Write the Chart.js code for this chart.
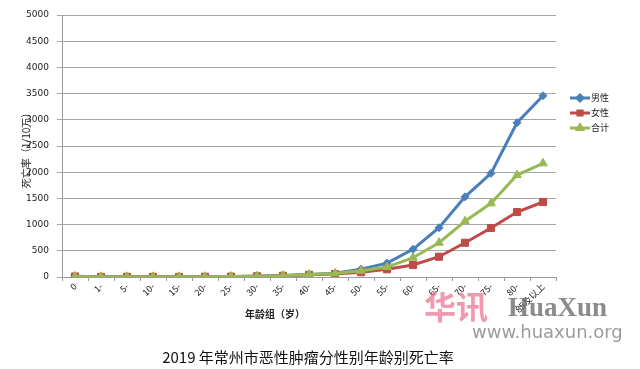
<!DOCTYPE html>
<html>
<head>
<meta charset="utf-8">
<script src="https://cdn.jsdelivr.net/npm/chart.js@4/dist/chart.umd.min.js"></script>
<style>
  html, body { margin: 0; padding: 0; background: #fff; }
  #wrap { position: relative; width: 640px; height: 369px; }
</style>
</head>
<body>
<div id="wrap"><canvas id="c" width="640" height="369"></canvas></div>
<script>
// Age groups (x axis)
const ageGroups = ['0', '1-', '5-', '10-', '15-', '20-', '25-', '30-', '35-', '40-',
                   '45-', '50-', '55-', '60-', '65-', '70-', '75-', '80-', '85及以上'];

// Mortality per 100,000
const maleRates   = [12, 4, 3, 3, 4, 6, 9, 16, 28, 50, 70, 150, 265, 528, 940, 1530, 1978, 2944, 3460];
const femaleRates = [10, 3, 3, 3, 3, 5, 8, 14, 24, 42, 57, 90, 147, 229, 387, 654, 935, 1240, 1431];
const totalRates  = [11, 4, 3, 3, 4, 6, 9, 15, 26, 46, 68, 120, 190, 368, 654, 1063, 1406, 1946, 2169];

const yTicks = [0, 500, 1000, 1500, 2000, 2500, 3000, 3500, 4000, 4500, 5000];

const seriesNames = ['男性', '女性', '合计'];
const seriesColors = ['#4a7ebb', '#be4b48', '#98b954'];

const cjk = "'Noto Sans CJK SC', 'DejaVu Sans', sans-serif";

// Extra text: axis titles, legend, caption, watermark
const decorPlugin = {
  id: 'decor',
  afterDraw(chart) {
    const ctx = chart.ctx;
    ctx.save();

    // Y axis title
    ctx.fillStyle = '#222';
    ctx.font = '10px ' + cjk;
    ctx.translate(26, 148);
    ctx.rotate(-Math.PI / 2);
    ctx.textAlign = 'center';
    ctx.textBaseline = 'middle';
    ctx.fillText('死亡率（1/10万）', 0, 0);
    ctx.setTransform(1, 0, 0, 1, 0, 0);

    // X axis title
    ctx.font = 'bold 10px ' + cjk;
    ctx.fillText('年龄组（岁）', 275, 314);

    // Legend
    const markers = ['rectRot', 'rect', 'triangle'];
    seriesNames.forEach((name, i) => {
      const y = 98 + i * 15;
      ctx.strokeStyle = seriesColors[i];
      ctx.lineWidth = 3;
      ctx.beginPath();
      ctx.moveTo(570, y);
      ctx.lineTo(590, y);
      ctx.stroke();
      Chart.helpers.drawPoint(ctx, {
        pointStyle: markers[i], radius: 3, borderWidth: 1
      }, 580, y);
      ctx.fillStyle = seriesColors[i];
      ctx.fill();
      ctx.fillStyle = '#222';
      ctx.font = '9px ' + cjk;
      ctx.textAlign = 'left';
      ctx.fillText(name, 591, y);
    });

    // Watermark
    ctx.textAlign = 'left';
    ctx.fillStyle = 'rgba(235, 110, 140, 0.7)';
    ctx.font = 'bold 32px ' + cjk;
    ctx.fillText('华讯', 424, 307);
    ctx.fillStyle = 'rgba(110, 110, 110, 0.8)';
    ctx.font = 'bold 27px "Liberation Serif", serif';
    ctx.fillText('HuaXun', 508, 309);
    ctx.font = '18px "DejaVu Sans", sans-serif';
    ctx.fillStyle = 'rgba(130, 130, 130, 0.8)';
    ctx.fillText('www.huaxun.org', 472, 333);

    // Caption
    ctx.fillStyle = '#111';
    ctx.font = '15px ' + cjk;
    ctx.textAlign = 'center';
    ctx.fillText('2019 年常州市恶性肿瘤分性别年龄别死亡率', 308, 357);

    ctx.restore();
  }
};

const ctx = document.getElementById('c').getContext('2d');

new Chart(ctx, {
  type: 'line',
  data: {
    labels: ageGroups,
    datasets: [
      {
        label: seriesNames[0],
        data: maleRates,
        borderColor: seriesColors[0],
        backgroundColor: seriesColors[0],
        borderWidth: 3,
        pointStyle: 'rectRot',
        pointRadius: 4,
        pointBorderWidth: 1,
        order: 2
      },
      {
        label: seriesNames[1],
        data: femaleRates,
        borderColor: seriesColors[1],
        backgroundColor: seriesColors[1],
        borderWidth: 3,
        pointStyle: 'rect',
        pointRadius: 5,
        pointBorderWidth: 1,
        order: 1
      },
      {
        label: seriesNames[2],
        data: totalRates,
        borderColor: seriesColors[2],
        backgroundColor: seriesColors[2],
        borderWidth: 3,
        pointStyle: 'triangle',
        pointRadius: 5,
        pointBorderWidth: 1,
        order: 0
      }
    ]
  },
  options: {
    responsive: false,
    animation: false,
    layout: { padding: { top: 15, right: 84, left: 0, bottom: 0 } },
    plugins: {
      legend: { display: false },
      tooltip: { enabled: false }
    },
    scales: {
      x: {
        offset: true,
        afterFit: (scale) => { scale.height = 92; },
        grid: {
          offset: true,
          drawOnChartArea: false,
          tickLength: 4,
          color: '#9a9a9a'
        },
        border: { color: '#9a9a9a' },
        ticks: {
          minRotation: 45,
          maxRotation: 45,
          autoSkip: false,
          color: '#222',
          font: { family: cjk, size: 9 },
          padding: 0
        }
      },
      y: {
        min: 0,
        max: 5000,
        afterFit: (scale) => { scale.width = 62; },
        afterBuildTicks: (scale) => { scale.ticks = yTicks.map(v => ({ value: v })); },
        grid: { color: '#a6a6a6', tickLength: 5 },
        border: { color: '#9a9a9a' },
        ticks: {
          color: '#222',
          font: { family: "'DejaVu Sans', sans-serif", size: 9 },
          padding: 8,
          callback: (v) => String(v)
        }
      }
    }
  },
  plugins: [decorPlugin]
});
</script>
</body>
</html>
